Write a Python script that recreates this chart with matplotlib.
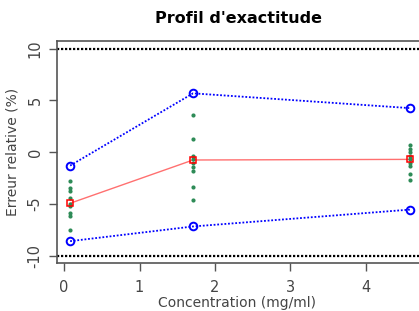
import numpy as np
import matplotlib.pyplot as plt

# concentrations (mg/ml)
conc = [0.08, 1.71, 4.59]

# individual relative errors (%) per level
err_lvl1 = [-2.75, -3.49, -3.72, -4.43, -4.98, -5.23, -5.88, -6.20, -7.55]
err_lvl2 = [3.56, 1.27, -0.34, -0.66, -1.05, -1.47, -1.85, -3.33, -4.65]
err_lvl3 = [0.66, 0.34, 0.02, -0.40, -0.70, -1.05, -1.37, -2.08, -2.66]

mean_err = [-4.94, -0.76, -0.70]
upper_tol = [-1.30, 5.68, 4.25]
lower_tol = [-8.60, -7.18, -5.55]
accept_lim = [-10, 10]

txt = '#444444'

fig = plt.figure(figsize=(4.19, 3.11), dpi=100)
ax = fig.add_axes([0.135, 0.153, 0.88, 0.714])

for x, errs in zip(conc, [err_lvl1, err_lvl2, err_lvl3]):
    ax.plot([x] * len(errs), errs, 'o', color='#2e8b57', ms=3, mew=0, zorder=3)

ax.plot(conc, upper_tol, color='blue', ls=(0, (1, 1)), lw=1.3, zorder=2)
ax.plot(conc, lower_tol, color='blue', ls=(0, (1, 1)), lw=1.3, zorder=2)
ax.plot(conc, upper_tol, 'o', mfc='none', mec='blue', ms=5.5, mew=1.4, zorder=4)
ax.plot(conc, lower_tol, 'o', mfc='none', mec='blue', ms=5.5, mew=1.4, zorder=4)

ax.plot(conc, mean_err, color='#ff7070', lw=1, zorder=2)
ax.plot(conc, mean_err, 's', mfc='none', mec='red', ms=4, mew=1.1, zorder=5)

for y in accept_lim:
    ax.axhline(y, color='black', ls=(0, (1, 0.8)), lw=1.6, zorder=1)

ax.set_xlim(-0.10, 4.79)
ax.set_ylim(-10.75, 10.7)
ax.set_xticks([0, 1, 2, 3, 4])
ax.set_yticks([-10, -5, 0, 5, 10])
ax.set_yticklabels(['-10', '-5', '0', '5', '10'], rotation=90, va='center')

for s in ['left', 'top', 'bottom']:
    ax.spines[s].set_color('#555555')
    ax.spines[s].set_linewidth(1.2)
ax.spines['right'].set_visible(False)
ax.tick_params(colors='#555555', labelcolor=txt, labelsize=10.5, length=6, width=1, pad=4)
ax.tick_params(axis='x', pad=6)

ax.set_xlabel('Concentration (mg/ml)', color=txt, fontsize=10)
ax.xaxis.set_label_coords(0.49, -0.148)
ax.set_ylabel('Erreur relative (%)', color=txt, fontsize=10, labelpad=6)
fig.suptitle("Profil d'exactitude", fontweight='bold', fontsize=11.5, x=0.57, y=0.965)

plt.savefig('out.png', dpi=100)
